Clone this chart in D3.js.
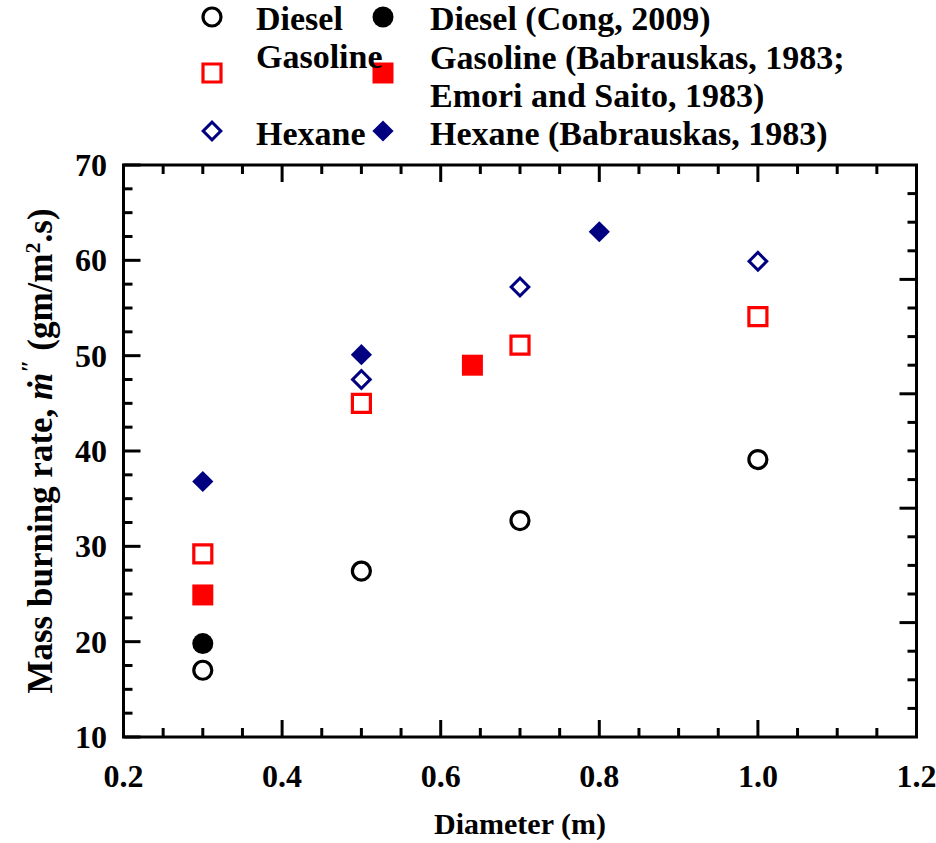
<!DOCTYPE html>
<html>
<head>
<meta charset="utf-8">
<script src="https://cdn.jsdelivr.net/npm/d3@7"></script>
<style>
  html, body { margin: 0; padding: 0; background: #fff; }
  svg { display: block; }
  text { font-family: "Liberation Serif", "Times New Roman", serif; font-weight: bold; fill: #000; }
</style>
</head>
<body>
<svg id="chart" width="936" height="843"></svg>
<script>
// Pool-fire mass burning rate vs. pool diameter
const dieselX = [0.3, 0.5, 0.7, 1.0];
const dieselY = [17.0, 27.4, 32.7, 39.1];
const dieselCongX = [0.3];
const dieselCongY = [19.8];
const gasolineX = [0.3, 0.5, 0.7, 1.0];
const gasolineY = [29.2, 45.0, 51.1, 54.1];
const gasolineRefX = [0.3, 0.64];
const gasolineRefY = [24.9, 49.0];
const hexaneX = [0.5, 0.7, 1.0];
const hexaneY = [47.5, 57.2, 59.9];
const hexaneRefX = [0.3, 0.5, 0.8];
const hexaneRefY = [36.8, 50.1, 63.0];

const xTicks = [0.2, 0.4, 0.6, 0.8, 1.0, 1.2];
const yTicks = [10, 20, 30, 40, 50, 60, 70];
const legendLabels = [
  ["Diesel", "Diesel (Cong, 2009)"],
  ["Gasoline", "Gasoline (Babrauskas, 1983;|Emori and Saito, 1983)"],
  ["Hexane", "Hexane (Babrauskas, 1983)"]
];

const svg = d3.select("#chart");
const plot = { left: 123.5, right: 916.5, top: 165, bottom: 737 };

const x = d3.scaleLinear().domain([0.2, 1.2]).range([plot.left, plot.right]);
const y = d3.scaleLinear().domain([10, 70]).range([plot.bottom, plot.top]);
// secondary right-hand scale (unlabelled ticks only)
const y2 = d3.scaleLinear().domain([0, 5]).range([plot.bottom, plot.top]);

const AX = 3;
const majorLen = 17, minorLen = 9;

// frame
svg.append("rect")
  .attr("x", plot.left).attr("y", plot.top)
  .attr("width", plot.right - plot.left).attr("height", plot.bottom - plot.top)
  .attr("fill", "none").attr("stroke", "#000").attr("stroke-width", AX);

const tickG = svg.append("g").attr("stroke", "#000").attr("stroke-width", AX);

// x ticks (bottom & top, pointing inward)
const isMajorX = v => xTicks.some(t => Math.abs(t - v) < 1e-6);
const xMinor = d3.range(0.25, 1.2, 0.05).map(v => +v.toFixed(2)).filter(v => !isMajorX(v));
xTicks.concat(xMinor).forEach(v => {
  const len = isMajorX(v) ? majorLen : minorLen;
  tickG.append("line").attr("x1", x(v)).attr("x2", x(v)).attr("y1", plot.bottom).attr("y2", plot.bottom - len);
  tickG.append("line").attr("x1", x(v)).attr("x2", x(v)).attr("y1", plot.top).attr("y2", plot.top + len);
});

// left y ticks
const yMinor = d3.range(12.5, 70, 2.5).filter(v => v % 10 !== 0);
yTicks.concat(yMinor).forEach(v => {
  const len = v % 10 === 0 ? majorLen : minorLen;
  tickG.append("line").attr("x1", plot.left).attr("x2", plot.left + len).attr("y1", y(v)).attr("y2", y(v));
});

// right ticks
d3.range(0.25, 5, 0.25).forEach(v => {
  const len = Math.abs(v - Math.round(v)) < 1e-6 ? majorLen : minorLen;
  tickG.append("line").attr("x1", plot.right).attr("x2", plot.right - len).attr("y1", y2(v)).attr("y2", y2(v));
});

// tick labels
svg.append("g").selectAll("text").data(xTicks).join("text")
  .attr("x", d => x(d)).attr("y", 787)
  .attr("text-anchor", "middle").attr("font-size", 32)
  .text(d => d.toFixed(1));

svg.append("g").selectAll("text").data(yTicks).join("text")
  .attr("x", 107).attr("y", d => y(d) + 11)
  .attr("text-anchor", "end").attr("font-size", 32)
  .text(d => d);

// axis titles
svg.append("text").attr("x", x(0.7)).attr("y", 834)
  .attr("text-anchor", "middle").attr("font-size", 30).text("Diameter (m)");

const yl = svg.append("text")
  .attr("transform", `translate(52, ${(plot.top + plot.bottom) / 2}) rotate(-90)`)
  .attr("text-anchor", "middle").attr("font-size", 35);
yl.append("tspan").text("Mass burning rate, ");
yl.append("tspan").attr("font-style", "italic").text("\u1E41");
yl.append("tspan").attr("font-size", 24).attr("dy", -15).text("\u2033");
yl.append("tspan").attr("dy", 15).text(" (gm/m");
yl.append("tspan").attr("font-size", 22).attr("dy", -12).text("2");
yl.append("tspan").attr("dy", 12).text(".s)");

// marker shapes
const RED = "#ff0000", NAVY = "#000080";
const styles = {
  dieselOpen:  { shape: "circle", size: 9, fill: "#fff", stroke: "#000", sw: 3.2 },
  dieselFull:  { shape: "circle", size: 10.5, fill: "#000", stroke: "none", sw: 0 },
  gasOpen:     { shape: "square", size: 18, fill: "#fff", stroke: RED, sw: 3.2 },
  gasFull:     { shape: "square", size: 21, fill: RED, stroke: "none", sw: 0 },
  hexOpen:     { shape: "diamond", size: 12.5, fill: "#fff", stroke: NAVY, sw: 3 },
  hexFull:     { shape: "diamond", size: 15, fill: NAVY, stroke: "none", sw: 0 }
};

function drawMarker(g, cx, cy, st) {
  let el;
  if (st.shape === "circle") {
    el = g.append("circle").attr("cx", cx).attr("cy", cy).attr("r", st.size);
  } else {
    const sym = d3.symbol().type(d3.symbolSquare).size(st.size * st.size)();
    el = g.append("path").attr("d", sym)
      .attr("transform", `translate(${cx},${cy})` + (st.shape === "diamond" ? " rotate(45)" : ""));
  }
  el.attr("fill", st.fill).attr("stroke", st.stroke).attr("stroke-width", st.sw);
}

const series = [
  { xs: dieselX, ys: dieselY, st: styles.dieselOpen },
  { xs: dieselCongX, ys: dieselCongY, st: styles.dieselFull },
  { xs: gasolineX, ys: gasolineY, st: styles.gasOpen },
  { xs: gasolineRefX, ys: gasolineRefY, st: styles.gasFull },
  { xs: hexaneX, ys: hexaneY, st: styles.hexOpen },
  { xs: hexaneRefX, ys: hexaneRefY, st: styles.hexFull }
];
const marks = svg.append("g");
series.forEach(s => s.xs.forEach((xv, i) => drawMarker(marks, x(xv), y(s.ys[i]), s.st)));

// legend
const leg = svg.append("g");
const legRows = [17, 73, 131];
const leftBase = [30, 68, 145];
const rightBase = [30, 69, 145];
const legStyles = [
  [styles.dieselOpen, styles.dieselFull],
  [styles.gasOpen, styles.gasFull],
  [styles.hexOpen, styles.hexFull]
];
const LFS = 34;
legRows.forEach((ry, r) => {
  drawMarker(leg, 212, ry, legStyles[r][0]);
  drawMarker(leg, 383, ry, legStyles[r][1]);
  leg.append("text").attr("x", 256).attr("font-size", LFS)
    .attr("y", leftBase[r]).text(legendLabels[r][0]);
  legendLabels[r][1].split("|").forEach((ln, k) => {
    leg.append("text").attr("x", 430).attr("font-size", LFS)
      .attr("y", rightBase[r] + k * 38).text(ln);
  });
});
</script>
</body>
</html>
